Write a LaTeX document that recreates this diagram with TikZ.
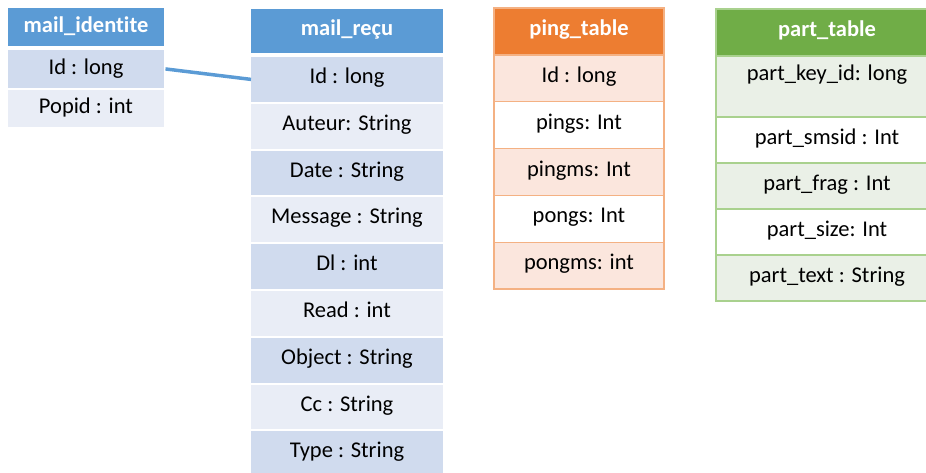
\documentclass[tikz,border=0pt]{standalone}
\usepackage{fontspec}
\setmainfont{Carlito}[Ligatures={NoCommon}]
\definecolor{bluehead}{HTML}{5B9BD5}
\definecolor{blueband}{HTML}{D0DBEE}
\definecolor{bluelight}{HTML}{E9EDF6}
\definecolor{orangehead}{HTML}{ED7D31}
\definecolor{orangeband}{HTML}{FBE6DD}
\definecolor{orangeline}{HTML}{F4B183}
\definecolor{greenhead}{HTML}{70AD47}
\definecolor{greenband}{HTML}{EAF0E7}
\definecolor{greenline}{HTML}{A9D18E}

\begin{document}
\begin{tikzpicture}[x=1pt,y=-1pt,
  cell/.style={rectangle, anchor=north west, inner sep=0pt, outer sep=0pt,
    font=\fontsize{22.5}{27}\selectfont, text height=14pt, text depth=6pt,
    align=center, text=black},
  head/.style={cell, font=\fontsize{22.5}{27}\selectfont\bfseries, text=white},
  bluecell/.style={cell, minimum width=#1},
  bluehd/.style={head, fill=bluehead, minimum width=#1},
  smallrow/.style={text depth=3pt},
  pingcell/.style={cell, draw=orangeline, line width=1.3pt, minimum width=170pt, minimum height=46.8pt},
  pinghd/.style={head, fill=orangehead, draw=orangeline, line width=1.3pt, minimum width=170pt, minimum height=47pt},
  partcell/.style={cell, draw=greenline, line width=1.3pt, minimum width=222pt, minimum height=46pt},
  parthd/.style={head, fill=greenhead, draw=greenline, line width=1.3pt, minimum width=222pt, minimum height=47pt},
  link/.style={line width=3.5pt, draw=bluehead}
]
\useasboundingbox (0,0) rectangle (926,472);
\clip (0,0) rectangle (926,472);

% table mail_identite
\node[bluehd=156pt, smallrow, minimum height=38pt] (mih) at (8,8) {mail\_identite};
\node[bluecell=156pt, smallrow, fill=blueband, minimum height=37.5pt] (mi1) at (8,50) {Id : long};
\node[bluecell=156pt, smallrow, fill=bluelight, minimum height=37.5pt] (mi2) at (8,89.5) {Popid : int};

% table mail_reçu
\node[bluehd=192pt, minimum height=44pt] (mrh) at (251,9) {mail\_reçu};
\node[bluecell=192pt, fill=blueband,  minimum height=44.8pt] (mr1) at (251,57)    {Id : long};
\node[bluecell=192pt, fill=bluelight, minimum height=44.8pt] (mr2) at (251,103.8) {Auteur: String};
\node[bluecell=192pt, fill=blueband,  minimum height=44.8pt] (mr3) at (251,150.6) {Date : String};
\node[bluecell=192pt, fill=bluelight, minimum height=44.8pt] (mr4) at (251,197.4) {Message : String};
\node[bluecell=192pt, fill=blueband,  minimum height=44.8pt] (mr5) at (251,244.2) {Dl : int};
\node[bluecell=192pt, fill=bluelight, minimum height=44.8pt] (mr6) at (251,291)   {Read : int};
\node[bluecell=192pt, fill=blueband,  minimum height=44.8pt] (mr7) at (251,337.8) {Object : String};
\node[bluecell=192pt, fill=bluelight, minimum height=44.8pt] (mr8) at (251,384.6) {Cc : String};
\node[bluecell=192pt, fill=blueband,  minimum height=44.8pt] (mr9) at (251,431.4) {Type : String};

% key link between the two mail tables
\draw[link, shorten <=1.5pt] (mi1.east) -- (mr1.west);

% table ping_table
\node[pinghd] (pth) at (494,8) {ping\_table};
\node[pingcell, fill=orangeband] (pt1) at (494,55)    {Id : long};
\node[pingcell, fill=white]      (pt2) at (494,101.8) {pings: Int};
\node[pingcell, fill=orangeband] (pt3) at (494,148.6) {pingms: Int};
\node[pingcell, fill=white]      (pt4) at (494,195.4) {pongs: Int};
\node[pingcell, fill=orangeband] (pt5) at (494,242.2) {pongms: int};

% table part_table
\node[parthd] (pah) at (716,9) {part\_table};
\node[partcell, fill=greenband, minimum height=61pt, text depth=27pt] (pa1) at (716,56) {part\_key\_id: long};
\node[partcell, fill=white]     (pa2) at (716,117) {part\_smsid : Int};
\node[partcell, fill=greenband] (pa3) at (716,163) {part\_frag : Int};
\node[partcell, fill=white]     (pa4) at (716,209) {part\_size: Int};
\node[partcell, fill=greenband] (pa5) at (716,255) {part\_text : String};
\end{tikzpicture}
\end{document}
